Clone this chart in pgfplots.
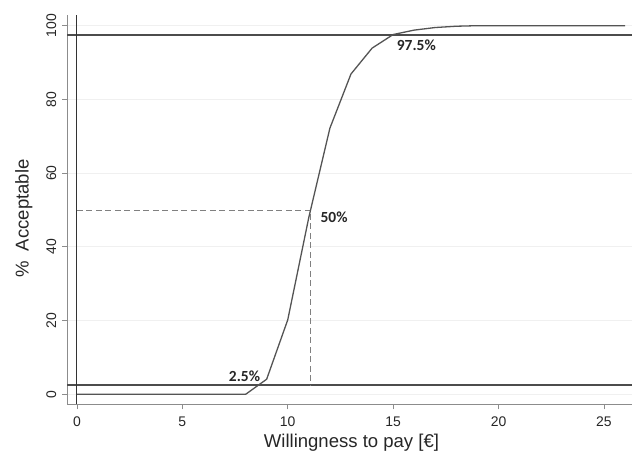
\documentclass[border=0pt]{standalone}
\usepackage{pgfplots}
\pgfplotsset{compat=1.18}
\usepackage{fontspec}
\setmainfont{Liberation Sans}
\newfontfamily\lblfont{Carlito}
\definecolor{axcol}{gray}{0.55}
\definecolor{refcol}{gray}{0.3}
\definecolor{curvecol}{gray}{0.33}
\definecolor{dashcol}{gray}{0.5}
\begin{document}
\begin{tikzpicture}[x=1bp,y=1bp]
\path[use as bounding box] (0,0) rectangle (632,452);
\begin{axis}[
  at={(67bp,47.7bp)}, anchor=south west,
  width=565bp, height=389.3bp, scale only axis,
  xmin=-0.47, xmax=26.33, ymin=-2.7, ymax=102.9,
  axis lines*=left,
  axis line style={-, draw=axcol, line width=1bp},
  tick style={draw=axcol, line width=0.8bp},
  tick align=outside, major tick length=5bp,
  xtick={0,5,10,15,20,25}, ytick={0,20,40,60,80,100},
  ymajorgrids, grid style={gray!12, line width=0.8bp},
  /pgf/number format/assume math mode=true,
  ticklabel style={font=\fontsize{14}{14}\selectfont, text=black!85},
  xticklabel style={anchor=base, yshift=-17.4bp},
  yticklabel style={rotate=90, anchor=base, yshift=6bp},
  xlabel={Willingness to pay [€]},
  ylabel={\%\ \ Acceptable},
  label style={font=\fontsize{18.6}{18.6}\selectfont, text=black!85},
  xlabel style={at={(axis description cs:0.5035,-0.1115)}, anchor=base},
  ylabel style={at={(axis description cs:-0.0726,0.477)}, anchor=mid},
  clip=false,
]
\addplot[draw=refcol, line width=1.4bp] coordinates {(-0.47,97.5) (26.33,97.5)};
\addplot[draw=refcol, line width=1.4bp] coordinates {(-0.47,2.5) (26.33,2.5)};
\addplot[draw=black!80, line width=1.1bp] coordinates {(0,-2.7) (0,102.9)};
\addplot[draw=dashcol, dash pattern=on 6bp off 3.5bp, line width=1bp] coordinates {(0,50) (11.08,50) (11.08,2.5)};
\addplot[draw=curvecol, line width=1.3bp] coordinates {
(0,0) (1,0) (2,0) (3,0) (4,0) (5,0) (6,0) (7,0) (8,0)
(9,4.1) (10,20.2) (11,48) (12,72.2) (13,86.9) (14,93.9) (15,97.6)
(16,98.8) (17,99.5) (18,99.85) (19,100) (20,100) (21,100) (22,100)
(23,100) (24,100) (25,100) (26,100)
};
\node[font=\lblfont\bfseries\fontsize{15.5}{15.5}\selectfont, text=black!85] at (axis cs:16.1,94.6) {97.5\%};
\node[font=\lblfont\bfseries\fontsize{15.5}{15.5}\selectfont, text=black!85] at (axis cs:12.2,48.1) {50\%};
\node[font=\lblfont\bfseries\fontsize{15.5}{15.5}\selectfont, text=black!85] at (axis cs:7.95,5.0) {2.5\%};
\end{axis}
\end{tikzpicture}
\end{document}
